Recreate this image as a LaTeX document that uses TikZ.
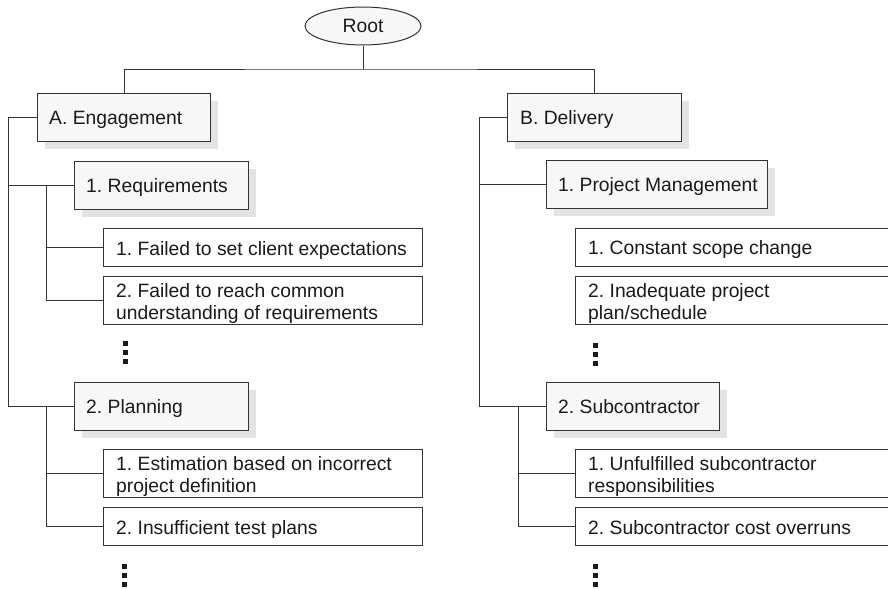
\documentclass[tikz,border=0pt]{standalone}
\usepackage{fontspec}
\setmainfont{Liberation Sans}
\usetikzlibrary{shapes.geometric,shadows}
\definecolor{linec}{HTML}{333333}
\definecolor{hfill}{HTML}{F7F7F7}
\definecolor{shadowc}{HTML}{E3E3E3}
\definecolor{txtc}{HTML}{1A1A1A}
\tikzset{
  every node/.style={font=\fontsize{19.3}{22}\selectfont\frenchspacing, text=txtc},
  hbox/.style={draw=linec, line width=1.1pt, fill=hfill, rectangle, anchor=north west,
    minimum height=48pt, inner sep=0pt,
    drop shadow={shadow xshift=7pt, shadow yshift=-7pt, fill=shadowc, opacity=1}},
  ibox/.style={draw=linec, line width=1.1pt, fill=white, rectangle, anchor=north west,
    minimum width=319pt, inner sep=0pt},
  lbl/.style={anchor=base west, inner sep=0pt, align=left},
  conn/.style={draw=linec, line width=1pt},
  vdot/.style={fill=txtc, draw=none},
}
\begin{document}
\begin{tikzpicture}[x=1pt, y=-1pt]
\clip (0,0) rectangle (888,589);
\fill[white] (0,0) rectangle (888,589);

% root
\node[draw=linec, line width=1pt, ellipse, fill=hfill, minimum width=116pt, minimum height=38pt, inner sep=0pt] (root) at (363,26) {Root};

% header boxes
\node[hbox, minimum width=173pt] (A) at (37,93) {};
\node[hbox, minimum width=174pt] (Req) at (74,161) {};
\node[hbox, minimum width=174pt] (Plan) at (74,382) {};
\node[hbox, minimum width=174pt] (B) at (507,93) {};
\node[hbox, minimum width=221pt] (PM) at (546,160) {};
\node[hbox, minimum width=173pt] (Sub) at (546,382) {};

\node[lbl] (tA) at (49,124) {A. Engagement};
\node[lbl] (tReq) at (86,192) {1. Requirements};
\node[lbl] (tPlan) at (86,413) {2. Planning};
\node[lbl] (tB) at (520,124) {B. Delivery};
\node[lbl] (tPM) at (558,191) {1. Project Management};
\node[lbl] (tSub) at (558,413) {2. Subcontractor};

% item boxes left
\node[ibox, minimum height=38pt] (L1) at (103,228) {};
\node[ibox, minimum height=48pt] (L2) at (103,276) {};
\node[ibox, minimum height=48pt] (L3) at (103,449) {};
\node[ibox, minimum height=38pt] (L4) at (103,507) {};
% item boxes right
\node[ibox, minimum height=38pt] (R1) at (575,228) {};
\node[ibox, minimum height=48pt] (R2) at (575,276) {};
\node[ibox, minimum height=48pt] (R3) at (575,449) {};
\node[ibox, minimum height=38pt] (R4) at (575,507) {};

% (base anchor of a two-line label is the baseline of its last line)
\node[lbl] (tL1) at (116,255) {1. Failed to set client expectations};
\node[lbl] (tL2) at (116,319) {2. Failed to reach common\\understanding of requirements};
\node[lbl] (tL3) at (116,492) {1. Estimation based on incorrect\\project definition};
\node[lbl] (tL4) at (116,534) {2. Insufficient test plans};
\node[lbl] (tR1) at (588,254) {1. Constant scope change};
\node[lbl] (tR2) at (588,319) {2. Inadequate project\\plan/schedule};
\node[lbl] (tR3) at (588,492) {1. Unfulfilled subcontractor\\responsibilities};
\node[lbl] (tR4) at (588,534) {2. Subcontractor cost overruns};

% connectors
\coordinate (bar) at (363,69);
\draw[conn] (root.south) -- (bar);
\draw[conn] (A.north) |- (bar) -| (B.north);

\coordinate (trA) at (8,0);
\coordinate (sA) at (46,0);
\draw[conn] (A.west) -| (trA |- Plan.west) -- (Plan.west);
\draw[conn] (trA |- Req.west) -- (Req.west);
\draw[conn] (Req.west -| sA) |- (L2.west);
\draw[conn] (sA |- L1.west) -- (L1.west);
\draw[conn] (Plan.west -| sA) |- (L4.west);
\draw[conn] (sA |- L3.west) -- (L3.west);

\coordinate (trB) at (479,0);
\coordinate (sB) at (518,0);
\draw[conn] (B.west) -| (trB |- Sub.west) -- (Sub.west);
\draw[conn] (trB |- PM.west) -- (PM.west);
\draw[conn] (Sub.west -| sB) |- (R4.west);
\draw[conn] (sB |- R3.west) -- (R3.west);

% vertical ellipses
\foreach \cx/\cy in {125/343, 124/566, 595/345, 595/566}{
  \foreach \k in {0,1,2}{
    \fill[vdot] (\cx-2.5,\cy+9*\k-2.5) rectangle (\cx+2.5,\cy+9*\k+2.5);
  }
}
\end{tikzpicture}
\end{document}
